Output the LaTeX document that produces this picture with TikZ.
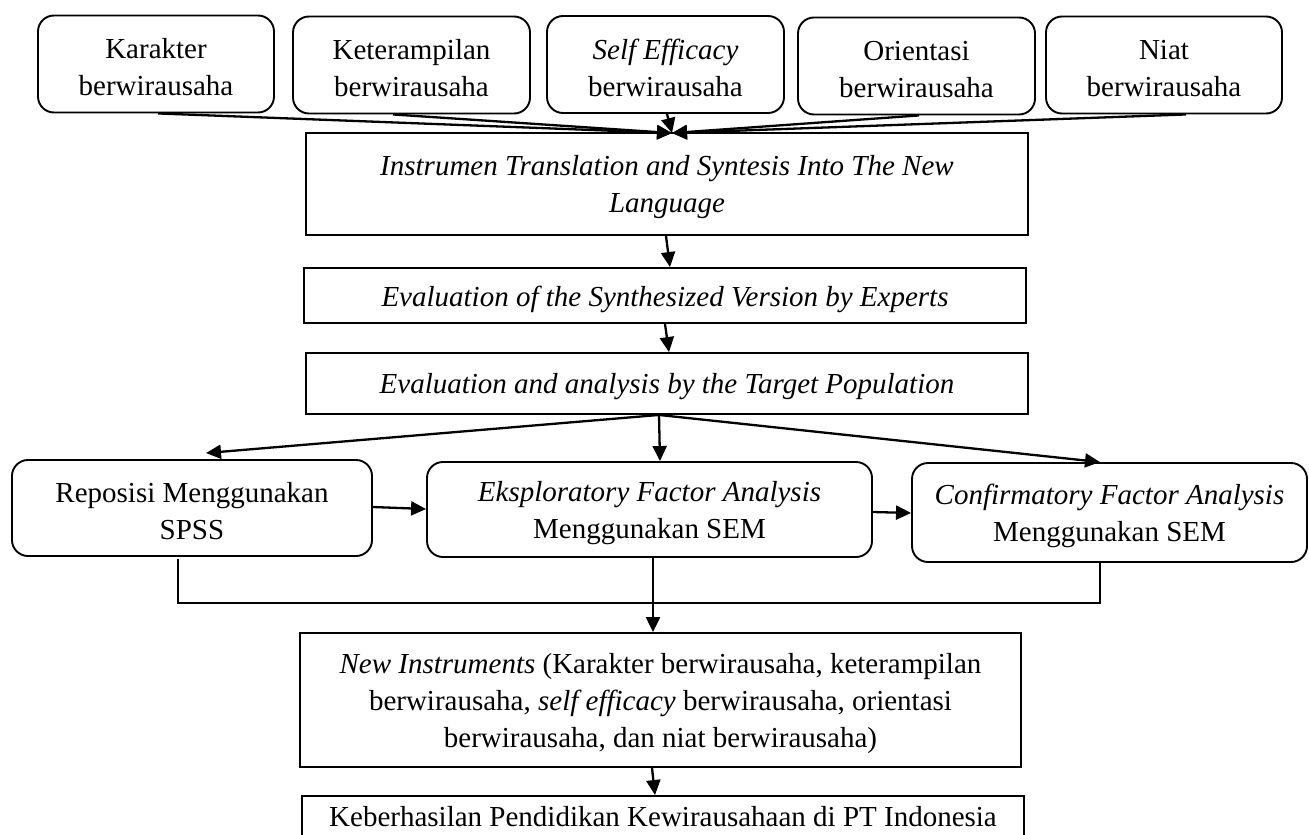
\documentclass[tikz,border=0pt]{standalone}
\usepackage{fontspec}
\setmainfont{Liberation Serif}
\usetikzlibrary{arrows.meta,calc}
\begin{document}
\begin{tikzpicture}[x=1pt,y=-1pt,
  txt/.style={align=center, inner sep=0pt, font=\fontsize{29}{37}\selectfont},
  boxtext/.style={label={[txt,yshift=-3.5pt]center:#1}},
  rbox/.style={draw, line width=1.9pt, rounded corners=16pt, inner sep=0pt},
  sbox/.style={draw, line width=1.9pt, inner sep=0pt},
  arr/.style={line width=2.3pt, -{Triangle[length=15pt,width=14pt]}},
  brk/.style={line width=1.9pt}]
\useasboundingbox (0,0) rectangle (1309,835);
\clip (0,0) rectangle (1309,835);
% top row
\node[rbox, minimum width=236pt, minimum height=97pt, boxtext={Karakter\\berwirausaha}] (k1) at (156,64) {};
\node[rbox, minimum width=237pt, minimum height=97pt, boxtext={Keterampilan\\berwirausaha}] (k2) at (411.5,65) {};
\node[rbox, minimum width=237pt, minimum height=97pt, boxtext={\textit{Self Efficacy}\\berwirausaha}] (k3) at (665.5,64.5) {};
\node[rbox, minimum width=237pt, minimum height=97pt, boxtext={Orientasi\\berwirausaha}] (k4) at (916.5,66) {};
\node[rbox, minimum width=236pt, minimum height=97pt, boxtext={Niat\\berwirausaha}] (k5) at (1164,65) {};
% middle column
\node[sbox, minimum width=722pt, minimum height=102pt, boxtext={\textit{Instrumen Translation and Syntesis Into The New}\\\textit{Language}}] (inst) at (667,184) {};
\node[sbox, minimum width=722pt, minimum height=55pt, boxtext={\textit{Evaluation of the Synthesized Version by Experts}}] (e1) at (665,295.5) {};
\node[sbox, minimum width=722pt, minimum height=61pt, boxtext={\textit{Evaluation and analysis by the Target Population}}] (e2) at (667,383.5) {};
% analysis row
\node[rbox, minimum width=360pt, minimum height=96pt, boxtext={Reposisi Menggunakan\\SPSS}] (rep) at (192,508) {};
\node[rbox, minimum width=445pt, minimum height=95pt, boxtext={\textit{Eksploratory Factor Analysis}\\Menggunakan SEM}] (eks) at (649.5,509.5) {};
\node[rbox, minimum width=395pt, minimum height=99pt, boxtext={\textit{Confirmatory Factor Analysis}\\Menggunakan SEM}] (conf) at (1109.5,512.5) {};
% bottom
\node[sbox, minimum width=721pt, minimum height=134pt, boxtext={\textit{New Instruments} (Karakter berwirausaha, keterampilan\\berwirausaha, \textit{self efficacy} berwirausaha, orientasi\\berwirausaha, dan niat berwirausaha)}] (ni) at (660.5,700) {};
\node[sbox, minimum width=722pt, minimum height=52pt] (keb) at (663,822) {};
\node[txt] (kebt) at (663,817) {Keberhasilan Pendidikan Kewirausahaan di PT Indonesia};
% converging arrows
\coordinate (conv) at ($(inst.north)+(5,1)$);
\draw[arr] ($(k1.south)+(2,0)$) -- (conv);
\draw[arr] ($(k2.south)+(-18.5,0)$) -- (conv);
\draw[arr] ($(k3.south)+(1.5,0)$) -- (conv);
\draw[arr] ($(k4.south)+(2.5,0)$) -- (conv);
\draw[arr] ($(k5.south)+(22,0)$) -- (conv);
% vertical chain
\draw[arr] ($(inst.south)+(-1,0)$) -- ($(e1.north)+(5,0)$);
\draw[arr] (e1.south) -- ($(e2.north)+(2,0)$);
% fan out
\coordinate (fan) at ($(e2.south)+(-8,0)$);
\draw[arr] (fan) -- ($(rep.north)+(14,-6)$);
\draw[arr] (fan) -- ($(eks.north)+(10.5,0)$);
\draw[arr] (fan) -- ($(conf.north)+(-9.5,0)$);
% horizontal arrows
\draw[arr] ($(rep.east)+(0,-1)$) -- ($(eks.west)+(0,-0.5)$);
\draw[arr] ($(eks.east)+(0,2.5)$) -- ($(conf.west)+(0,0.5)$);
% bracket
\draw[brk] ($(rep.south)+(-14,2)$) -- ++(0,44) -| ($(conf.south)+(-9.5,0)$);
\draw[arr] ($(eks.south)+(3.5,0)$) -- ($(ni.north)+(-7.5,0)$);
\draw[arr] ($(ni.south)+(-8.5,0)$) -- ($(keb.north)+(-8,0)$);
\end{tikzpicture}
\end{document}
